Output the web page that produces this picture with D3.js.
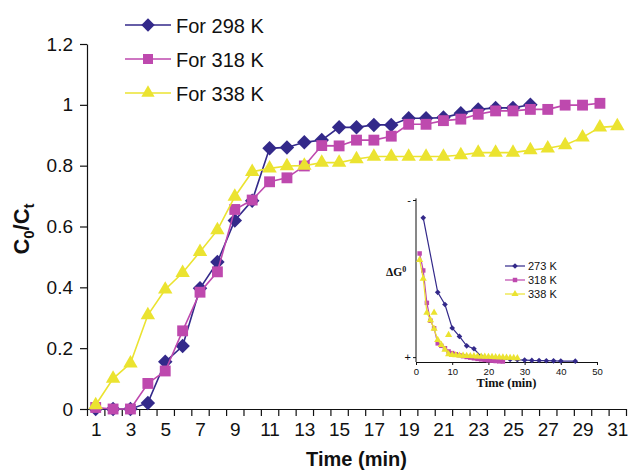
<!DOCTYPE html>
<html>
<head>
<meta charset="utf-8">
<script src="https://cdn.jsdelivr.net/npm/d3@7/dist/d3.min.js"></script>
<style>
  html, body { margin: 0; padding: 0; background: #fff; }
  svg { display: block; }
  text { font-family: "Liberation Sans", Arial, Helvetica, sans-serif; fill: #111; }
</style>
</head>
<body>
<svg id="chart" width="628" height="471"></svg>
<script>
// Time categories (min) on the main axis
const timeMin = [1, 2, 3, 4, 5, 6, 7, 8, 9, 10, 11, 12, 13, 14, 15, 16, 17, 18, 19, 20,
                 21, 22, 23, 24, 25, 26, 27, 28, 29, 30, 31];
const timeLabels = [1, 3, 5, 7, 9, 11, 13, 15, 17, 19, 21, 23, 25, 27, 29, 31];
const yTicks = [0, 0.2, 0.4, 0.6, 0.8, 1, 1.2];

// C0/Ct for each temperature, one value per minute starting at 1 min
const ratio298 = [0, 0, 0, 0.02, 0.155, 0.207, 0.397, 0.483, 0.62, 0.685, 0.857, 0.86, 0.877,
                  0.884, 0.926, 0.926, 0.934, 0.934, 0.956, 0.956, 0.958, 0.972, 0.985, 0.99,
                  0.99, 1.0];
const ratio318 = [0.005, 0, 0, 0.084, 0.125, 0.257, 0.384, 0.451, 0.656, 0.687, 0.747, 0.76,
                  0.799, 0.866, 0.865, 0.884, 0.884, 0.897, 0.936, 0.936, 0.948, 0.953, 0.969,
                  0.98, 0.98, 0.985, 0.985, 0.999, 0.999, 1.005];
const ratio338 = [0.013, 0.1, 0.15, 0.309, 0.393, 0.448, 0.517, 0.588, 0.698, 0.78, 0.791, 0.799,
                  0.8, 0.81, 0.81, 0.822, 0.83, 0.83, 0.83, 0.83, 0.83, 0.835, 0.843, 0.843,
                  0.843, 0.851, 0.857, 0.868, 0.893, 0.926, 0.93];
const seriesNames = ["For 298 K", "For 318 K", "For 338 K"];

// Inset: relative ΔG0 against time (0 = "+" end, 1 = "-" end)
const insetT273 = [2, 6, 8, 10, 12, 14, 16, 18, 20, 22, 24, 26, 28, 30, 32, 34, 36, 38, 40, 44];
const insetG273 = [0.89, 0.43, 0.355, 0.21, 0.158, 0.1, 0.082, 0.035, 0.025, 0.021, 0.018,
                   0.016, 0.014, 0.012, 0.01, 0.009, 0.008, 0.007, 0.006, 0.005];
const insetT318 = [1, 2, 3, 4, 5, 6, 7, 8, 9, 10, 11, 12, 13, 14, 15, 16, 17, 18, 19, 20, 21,
                   22, 23, 24];
const insetG318 = [0.67, 0.565, 0.365, 0.255, 0.208, 0.115, 0.1, 0.085, 0.065, 0.055, 0.048,
                   0.042, 0.036, 0.031, 0.027, 0.023, 0.019, 0.016, 0.013, 0.01, 0.008, 0.006,
                   0.004, 0.003];
const insetT338 = [1, 2, 3, 4, 5, 6, 7, 8, 9, 10, 11, 12, 13, 14, 15, 16, 17, 18, 19, 20, 21,
                   22, 23, 24, 25, 26, 27, 28];
const insetG338 = [0.63, 0.515, 0.305, 0.258, 0.205, 0.136, 0.105, 0.076, 0.048, 0.044, 0.042,
                   0.04, 0.039, 0.038, 0.037, 0.036, 0.035, 0.034, 0.033, 0.032, 0.031, 0.03,
                   0.029, 0.028, 0.027, 0.026, 0.025, 0.024];
const insetOddT338 = [5, 9];
const insetOddG338 = [0.305, 0.167];
const insetXTicks = [0, 10, 20, 30, 40, 50];
const insetNames = ["273 K", "318 K", "338 K"];

const NAVY = "#33298a", MAGENTA = "#be49ae", YELLOW = "#ebe330";

const svg = d3.select("#chart");

// ---------- main plot ----------
const x = d3.scaleLinear().domain([0.5, 31.5]).range([87, 626]);
const y = d3.scaleLinear().domain([0, 1.2]).range([409, 44]);

// y axis
const yAxis = svg.append("g")
  .attr("transform", `translate(${x(0.5)},0)`)
  .call(d3.axisLeft(y).tickValues(yTicks).tickSize(7).tickPadding(7)
        .tickSizeOuter(0).tickFormat(d3.format("")));
yAxis.selectAll("text").style("font-size", "19px");

// x axis: tick marks on category boundaries
const boundaries = timeMin.map(t => t - 0.5).concat([timeMin[timeMin.length - 1] + 0.5]);
svg.append("g")
  .attr("transform", `translate(0,${y(0)})`)
  .call(d3.axisBottom(x).tickValues(boundaries).tickSize(7).tickSizeOuter(0).tickFormat(""));
// x axis labels centred on odd categories
const xLab = svg.append("g")
  .attr("transform", `translate(0,${y(0)})`)
  .call(d3.axisBottom(x).tickValues(timeLabels).tickSize(0).tickPadding(14).tickFormat(d3.format("d")));
xLab.select(".domain").remove();
xLab.selectAll("text").style("font-size", "19px");

svg.selectAll(".domain, .tick line").attr("stroke", "#111").attr("stroke-width", 1.2);

// axis titles
svg.append("text")
  .attr("x", (x(0.5) + x(31.5)) / 2).attr("y", 466)
  .attr("text-anchor", "middle")
  .style("font-size", "20px").style("font-weight", "bold")
  .text("Time (min)");

const yTitle = svg.append("text")
  .attr("transform", "translate(29,229) rotate(-90)")
  .attr("text-anchor", "middle")
  .style("font-size", "22px").style("font-weight", "bold");
yTitle.append("tspan").text("C");
yTitle.append("tspan").attr("dy", 5).style("font-size", "15px").text("0");
yTitle.append("tspan").attr("dy", -5).text("/C");
yTitle.append("tspan").attr("dy", 5).style("font-size", "15px").text("t");

// marker generators
const diamondPath = s => d3.symbol(d3.symbolSquare, s)();
function marker(sel, kind, color, size) {
  if (kind === "diamond") {
    sel.append("path").attr("d", diamondPath(size)).attr("transform", "rotate(45)")
      .attr("fill", color);
  } else if (kind === "square") {
    sel.append("path").attr("d", d3.symbol(d3.symbolSquare, size)()).attr("fill", color);
  } else {
    sel.append("path").attr("d", d3.symbol(d3.symbolTriangle, size)()).attr("fill", color);
  }
}

const mainSeries = [
  { name: seriesNames[0], values: ratio298, color: NAVY, kind: "diamond", size: 105 },
  { name: seriesNames[1], values: ratio318, color: MAGENTA, kind: "square", size: 118 },
  { name: seriesNames[2], values: ratio338, color: YELLOW, kind: "triangle", size: 90 }
];

const line = d3.line().x(d => x(d.t)).y(d => y(d.v));
mainSeries.forEach(s => {
  const pts = s.values.map((v, i) => ({ t: timeMin[i], v }));
  const g = svg.append("g");
  g.append("path").datum(pts).attr("d", line)
    .attr("fill", "none").attr("stroke", s.color).attr("stroke-width", 1.6);
  g.selectAll("g.m").data(pts).join("g").attr("class", "m")
    .attr("transform", d => `translate(${x(d.t)},${y(d.v)})`)
    .each(function () { marker(d3.select(this), s.kind, s.color, s.size); });
});

// legend
const legY = [25, 59, 93];
mainSeries.forEach((s, i) => {
  const g = svg.append("g").attr("transform", `translate(125,${legY[i]})`);
  g.append("line").attr("x1", 0).attr("x2", 46).attr("y1", 0).attr("y2", 0)
    .attr("stroke", s.color).attr("stroke-width", 1.6);
  const m = g.append("g").attr("transform", "translate(23,0)");
  marker(m, s.kind, s.color, s.size * 0.85);
  g.append("text").attr("x", 51).attr("y", 7.5).style("font-size", "20px").text(s.name);
});

// ---------- inset: ΔG0 vs time ----------
const ix = d3.scaleLinear().domain([0, 50]).range([416, 597]);
const iy = d3.scaleLinear().domain([0, 1]).range([362, 200]);

const ixAxis = svg.append("g").attr("transform", `translate(0,${iy(0)})`)
  .call(d3.axisBottom(ix).tickValues(insetXTicks).tickSize(3).tickPadding(3).tickSizeOuter(0));
ixAxis.selectAll("text").style("font-size", "9.5px");

const iyAxis = svg.append("g").attr("transform", `translate(${ix(0)},0)`)
  .call(d3.axisLeft(iy).tickValues([0.03, 1]).tickSize(3).tickPadding(2).tickSizeOuter(0)
        .tickFormat(d => (d === 1 ? "-" : "+")));
iyAxis.selectAll("text").style("font-size", "11px");
iyAxis.select(".domain").attr("d", `M0,${iy(1.01)}V${iy(0)}`);
svg.selectAll(".domain, .tick line").attr("stroke", "#111");
ixAxis.selectAll(".domain, .tick line").attr("stroke-width", 1);
iyAxis.selectAll(".domain, .tick line").attr("stroke-width", 1);

svg.append("text")
  .attr("x", (ix(0) + ix(50)) / 2).attr("y", 387).attr("text-anchor", "middle")
  .style("font-family", "'Liberation Serif', 'Times New Roman', serif")
  .style("font-size", "12.5px").style("font-weight", "bold").text("Time (min)");

const gTitle = svg.append("text").attr("x", 386).attr("y", 276)
  .style("font-family", "'Liberation Serif', 'Times New Roman', serif")
  .style("font-size", "11.5px").style("font-weight", "bold");
gTitle.append("tspan").text("ΔG");
gTitle.append("tspan").attr("dy", -4).style("font-size", "8px").text("0");

const insetSeries = [
  { name: insetNames[0], t: insetT273, v: insetG273, color: NAVY, kind: "diamond", size: 16 },
  { name: insetNames[1], t: insetT318, v: insetG318, color: MAGENTA, kind: "square", size: 20 },
  { name: insetNames[2], t: insetT338, v: insetG338, color: YELLOW, kind: "triangle", size: 22 }
];
const iline = d3.line().x(d => ix(d.t)).y(d => iy(d.v));
insetSeries.forEach(s => {
  const pts = s.t.map((t, i) => ({ t, v: s.v[i] }));
  const g = svg.append("g");
  g.append("path").datum(pts).attr("d", iline)
    .attr("fill", "none").attr("stroke", s.color).attr("stroke-width", 1.2);
  g.selectAll("g.m").data(pts).join("g").attr("class", "m")
    .attr("transform", d => `translate(${ix(d.t)},${iy(d.v)})`)
    .each(function () { marker(d3.select(this), s.kind, s.color, s.size); });
});
// scattered 338 K readings
svg.append("g").selectAll("g").data(insetOddT338.map((t, i) => ({ t, v: insetOddG338[i] })))
  .join("g").attr("transform", d => `translate(${ix(d.t)},${iy(d.v)})`)
  .each(function () { marker(d3.select(this), "triangle", YELLOW, 22); });

const iLegY = [266, 280, 294];
insetSeries.forEach((s, i) => {
  const g = svg.append("g").attr("transform", `translate(505,${iLegY[i]})`);
  g.append("line").attr("x1", 0).attr("x2", 20).attr("y1", 0).attr("y2", 0)
    .attr("stroke", s.color).attr("stroke-width", 1.2);
  const m = g.append("g").attr("transform", "translate(10,0)");
  marker(m, s.kind, s.color, s.size);
  g.append("text").attr("x", 23).attr("y", 4).style("font-size", "11px").text(s.name);
});
</script>
</body>
</html>
